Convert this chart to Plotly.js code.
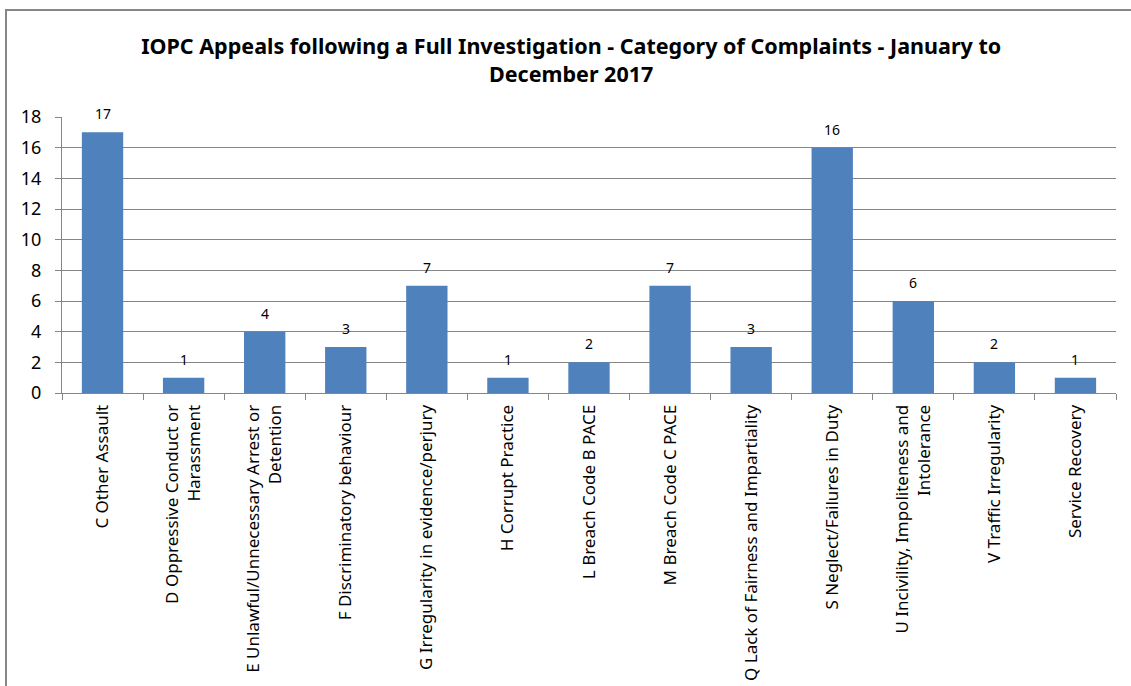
<!DOCTYPE html>
<html>
<head>
<meta charset="utf-8">
<script src="https://cdn.plot.ly/plotly-3.0.1.min.js"></script>
<style>
html,body{margin:0;padding:0;background:#fff;overflow:hidden;}
#wrap{position:relative;width:1131px;height:686px;}
#chart{width:1131px;height:686px;}
#frame{position:absolute;left:5px;top:9px;right:-10px;bottom:-10px;border-left:2px solid #868686;border-top:2px solid #868686;pointer-events:none;}
</style>
</head>
<body>
<div id="wrap"><div id="chart"></div><div id="frame"></div></div>
<script>
const categories = [
  "C Other Assault",
  "D Oppressive Conduct or<br>Harassment",
  "E Unlawful/Unnecessary Arrest or<br>Detention",
  "F Discriminatory behaviour",
  "G Irregularity in evidence/perjury",
  "H Corrupt Practice",
  "L Breach Code B PACE",
  "M Breach Code C PACE",
  "Q Lack of Fairness and Impartiality",
  "S Neglect/Failures in Duty",
  "U Incivility, Impoliteness and<br>Intolerance",
  "V Traffic Irregularity",
  "Service Recovery"
];
const counts = [17, 1, 4, 3, 7, 1, 2, 7, 3, 16, 6, 2, 1];
const yTicks = [0, 2, 4, 6, 8, 10, 12, 14, 16, 18];

const font = "Noto Sans, Open Sans, sans-serif";
const W = 1131, H = 686;
const L = 62, R = W - 1116, T = 117, B = H - 393;

const trace = {
  type: "bar",
  x: categories,
  y: counts,
  marker: {color: "#4F81BD"},
  cliponaxis: false,
  hoverinfo: "x+y"
};

const labels = categories.map((c, i) => ({
  x: c, y: counts[i], xref: "x", yref: "y",
  text: String(counts[i]), showarrow: false,
  yanchor: "bottom", yshift: 7,
  font: {family: font, size: 14, color: "#000"}
}));

const layout = {
  width: W, height: H,
  margin: {l: L, r: R, t: T, b: B},
  paper_bgcolor: "#fff",
  plot_bgcolor: "#fff",
  showlegend: false,
  bargap: 0.49,
  title: {
    text: "<b>IOPC Appeals following a Full Investigation - Category of Complaints - January to<br>December 2017</b>",
    font: {family: font, size: 21.5, color: "#000"},
    x: 0.505, xanchor: "center",
    y: 1 - 54 / H, yanchor: "top"
  },
  xaxis: {
    type: "category",
    tickangle: -90,
    tickfont: {family: font, size: 17, color: "#000"},
    showline: true, linecolor: "#868686", linewidth: 1,
    ticks: "outside", tickson: "boundaries", ticklen: 6, tickcolor: "#868686",
    ticklabelstandoff: 4,
    showgrid: false, automargin: false
  },
  yaxis: {
    range: [0, 18],
    tickvals: yTicks,
    ticktext: yTicks.map(String),
    tickfont: {family: font, size: 18, color: "#000"},
    showline: true, linecolor: "#868686", linewidth: 1,
    ticks: "outside", ticklen: 6, tickcolor: "#868686",
    ticklabelstandoff: 10,
    showgrid: true, gridcolor: "#868686", gridwidth: 1,
    zeroline: false, automargin: false
  },
  annotations: labels
};

Plotly.newPlot("chart", [trace], layout, {displayModeBar: false, staticPlot: true});
</script>
</body>
</html>
